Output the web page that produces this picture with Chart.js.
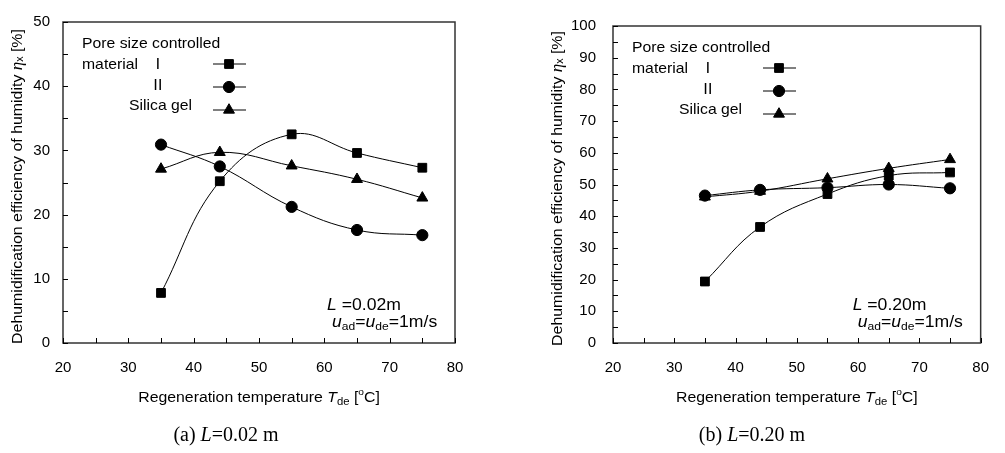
<!DOCTYPE html>
<html>
<head>
<meta charset="utf-8">
<script src="https://cdn.jsdelivr.net/npm/chart.js@4.4.1/dist/chart.umd.min.js"></script>
<style>
  html, body { margin: 0; padding: 0; background: #fff; }
  #wrap { position: relative; width: 1005px; height: 453px; }
  canvas { position: absolute; top: 0; }
</style>
</head>
<body>
<div id="wrap">
  <canvas id="chartA" width="500" height="453" style="left:0"></canvas>
  <canvas id="chartB" width="505" height="453" style="left:500px"></canvas>
</div>
<script>
// ================= DATA =================
const temperatures = [35, 44, 55, 65, 75];   // regeneration temperature, °C

// L = 0.02 m
const shortMaterialI  = [7.8, 25.2, 32.5, 29.6, 27.3];
const shortMaterialII = [30.9, 27.5, 21.2, 17.6, 16.8];
const shortSilicaGel  = [27.1, 29.7, 27.6, 25.5, 22.6];

// L = 0.20 m
const longMaterialI  = [19.4, 36.6, 47.0, 52.8, 53.8];
const longMaterialII = [46.5, 48.3, 49.0, 50.0, 48.8];
const longSilicaGel  = [46.1, 47.9, 51.8, 55.1, 57.9];

const xTicksMin = 20, xTicksMax = 80;
const legendRows = ["Pore size controlled", "material", "Ⅰ", "Ⅱ", "Silica gel"];

// ================= FONTS =================
const SANS = "'Liberation Sans', Arial, sans-serif";
const SERIF = "'Liberation Serif', 'Times New Roman', serif";
const NUMERAL = "'Liberation Sans', 'Noto Sans CJK JP', sans-serif";
const WIDE = 1.1;   // sans text in the figure is set slightly wide

function toPoints(ys) {
  return temperatures.map((x, i) => ({ x: x, y: ys[i] }));
}

// draws a run of differently styled pieces of text one after the other,
// optionally stretched horizontally by sx
function drawRich(ctx, parts, x, y, align, sx) {
  sx = sx || 1;
  let total = 0;
  parts.forEach(p => {
    ctx.font = p.font;
    p.w = ctx.measureText(p.text).width;
    total += p.w;
  });
  const start = align === "center" ? x - total * sx / 2 : x;
  ctx.save();
  ctx.translate(start, y);
  ctx.scale(sx, 1);
  ctx.textAlign = "left";
  ctx.textBaseline = "middle";
  let cx = 0;
  parts.forEach(p => {
    ctx.font = p.font;
    ctx.fillText(p.text, cx, p.dy || 0);
    cx += p.w;
  });
  ctx.restore();
}

function makeChart(canvasId, cfg) {
  const series = [
    { data: cfg.materialI, style: "rect", radius: 6.2 },
    { data: cfg.materialII, style: "circle", radius: 5.6 },
    { data: cfg.silicaGel, style: "triangle", radius: 6.3 }
  ];

  const decor = {
    id: "decor",
    afterDraw(chart) {
      const ctx = chart.ctx;
      const area = chart.chartArea;
      const xs = chart.scales.x;
      const ys = chart.scales.y;
      ctx.save();

      // -------- frame --------
      ctx.strokeStyle = "#333";
      ctx.lineWidth = 1.5;
      ctx.strokeRect(area.left, area.top, area.right - area.left, area.bottom - area.top);

      // -------- inward tick marks --------
      ctx.lineWidth = 1;
      ctx.strokeStyle = "#000";
      ctx.beginPath();
      ys.ticks.forEach(t => {
        const py = Math.round(ys.getPixelForValue(t.value)) + 0.5;
        ctx.moveTo(area.left, py);
        ctx.lineTo(area.left + 5, py);
      });
      xs.ticks.forEach(t => {
        const px = Math.round(xs.getPixelForValue(t.value)) + 0.5;
        ctx.moveTo(px, area.bottom);
        ctx.lineTo(px, area.bottom - 5);
      });
      ctx.stroke();

      ctx.fillStyle = "#000";

      // -------- legend --------
      const lx = area.left, ty = area.top;
      const f15 = "15px " + SANS;
      drawRich(ctx, [{ text: legendRows[0], font: f15 }], lx + 19, ty + 22, "left", 1.05);
      drawRich(ctx, [{ text: legendRows[1], font: f15 }], lx + 19, ty + 43, "left", 1.05);
      drawRich(ctx, [{ text: legendRows[2], font: "15px " + NUMERAL }], lx + 87, ty + 43, "left", 1.05);
      drawRich(ctx, [{ text: legendRows[3], font: "15px " + NUMERAL }], lx + 87, ty + 64, "left", 1.05);
      drawRich(ctx, [{ text: legendRows[4], font: f15 }], lx + 66, ty + 84, "left", 1.05);

      const sampleY = [ty + 42, ty + 65, ty + 88];
      series.forEach((s, i) => {
        ctx.beginPath();
        ctx.lineWidth = 1;
        ctx.strokeStyle = "#000";
        ctx.moveTo(lx + 150, sampleY[i]);
        ctx.lineTo(lx + 183, sampleY[i]);
        ctx.stroke();
        ctx.fillStyle = "#000";
        Chart.helpers.drawPoint(ctx, {
          pointStyle: s.style, radius: s.radius, rotation: 0, borderWidth: 1
        }, lx + 166, sampleY[i]);
      });

      // -------- conditions --------
      ctx.fillStyle = "#000";
      drawRich(ctx, [
        { text: "L", font: "italic 16px " + SANS },
        { text: " =" + cfg.length + "m", font: "16px " + SANS }
      ], area.right - 128, area.bottom - 37, "left", WIDE);
      drawRich(ctx, [
        { text: "u", font: "italic 16px " + SANS },
        { text: "ad", font: "11px " + SANS, dy: 4 },
        { text: "=", font: "16px " + SANS },
        { text: "u", font: "italic 16px " + SANS },
        { text: "de", font: "11px " + SANS, dy: 4 },
        { text: "=1m/s", font: "16px " + SANS }
      ], area.right - 123, area.bottom - 20, "left", WIDE);

      // -------- axis titles --------
      const midX = (area.left + area.right) / 2;
      drawRich(ctx, [
        { text: "Regeneration temperature ", font: "14px " + SANS },
        { text: "T", font: "italic 14px " + SANS },
        { text: "de", font: "10px " + SANS, dy: 4 },
        { text: " [", font: "14px " + SANS },
        { text: "o", font: "9px " + SANS, dy: -5 },
        { text: "C]", font: "14px " + SANS }
      ], midX, 398, "center", 1.13);

      ctx.save();
      ctx.translate(cfg.yTitleX, (area.top + area.bottom) / 2 + 4);
      ctx.rotate(-Math.PI / 2);
      drawRich(ctx, [
        { text: "Dehumidification efficiency of humidity ", font: "15px " + SANS },
        { text: "η", font: "italic 16px " + SERIF },
        { text: "x", font: "10px " + SANS, dy: 2 },
        { text: " [%]", font: "15px " + SANS }
      ], 0, 0, "center", 1.06);
      ctx.restore();

      // -------- caption --------
      drawRich(ctx, [
        { text: cfg.tag + " ", font: "20px " + SERIF },
        { text: "L", font: "italic 20px " + SERIF },
        { text: "=" + cfg.length + " m", font: "20px " + SERIF }
      ], cfg.captionX, 436, "center");

      ctx.restore();
    }
  };

  return new Chart(document.getElementById(canvasId), {
    type: "line",
    data: {
      datasets: series.map(s => ({
        data: toPoints(s.data),
        borderColor: "#000",
        borderWidth: 1,
        backgroundColor: "#000",
        pointBackgroundColor: "#000",
        pointBorderColor: "#000",
        pointBorderWidth: 1,
        pointStyle: s.style,
        pointRadius: s.radius,
        tension: 0.4,
        fill: false
      }))
    },
    options: {
      responsive: false,
      animation: false,
      events: [],
      layout: { padding: { left: 0, right: cfg.padRight, top: cfg.padTop, bottom: 0 } },
      plugins: { legend: { display: false }, tooltip: { enabled: false } },
      scales: {
        x: {
          type: "linear",
          min: xTicksMin,
          max: xTicksMax,
          grid: { display: false, drawTicks: false },
          border: { display: false },
          ticks: {
            stepSize: 5,
            autoSkip: false,
            maxRotation: 0,
            padding: 16,
            color: "#000",
            font: { family: SANS, size: 15 },
            callback: v => (v % 10 === 0 ? v : "")
          },
          afterFit: s => { s.height = 453 - cfg.plotBottom; }
        },
        y: {
          min: 0,
          max: cfg.yMax,
          grid: { display: false, drawTicks: false },
          border: { display: false },
          ticks: {
            stepSize: 5,
            autoSkip: false,
            padding: cfg.yPad,
            color: "#000",
            font: { family: SANS, size: 15 },
            callback: v => (v % 10 === 0 ? v : "")
          },
          afterFit: s => { s.width = cfg.plotLeft; }
        }
      }
    },
    plugins: [decor]
  });
}

makeChart("chartA", {
  materialI: shortMaterialI, materialII: shortMaterialII, silicaGel: shortSilicaGel,
  yMax: 50, length: "0.02", tag: "(a)",
  plotLeft: 63, padRight: 45, padTop: 16, plotBottom: 343, yPad: 13,
  yTitleX: 18, captionX: 226
});

makeChart("chartB", {
  materialI: longMaterialI, materialII: longMaterialII, silicaGel: longSilicaGel,
  yMax: 100, length: "0.20", tag: "(b)",
  plotLeft: 113, padRight: 7, padTop: 15, plotBottom: 343, yPad: 17,
  yTitleX: 58, captionX: 252
});
</script>
</body>
</html>
